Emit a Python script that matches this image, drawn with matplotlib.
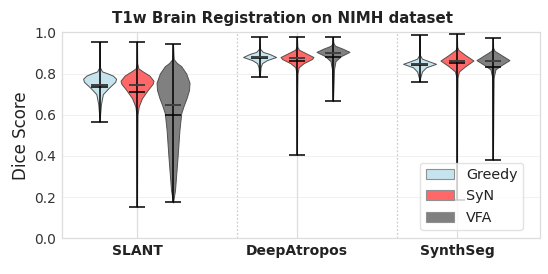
import matplotlib
matplotlib.use("Agg")
import matplotlib.pyplot as plt
from matplotlib.patches import Patch
import numpy as np

groups = ["SLANT", "DeepAtropos", "SynthSeg"]
methods = ["Greedy", "SyN", "VFA"]
colors = {"Greedy": "#c6e4ee", "SyN": "#ff6868", "VFA": "#808080"}

# Per violin: density profile (value, relative half-width), mean, median
slant_greedy_vals = [0.564, 0.60, 0.65, 0.70, 0.73, 0.76, 0.775, 0.79, 0.80, 0.81, 0.83, 0.953]
slant_greedy_dens = [0.0, 0.03, 0.08, 0.2, 0.55, 0.95, 1.0, 0.8, 0.5, 0.15, 0.02, 0.0]
slant_greedy_stats = dict(mean=0.735, median=0.743)

slant_syn_vals = [0.153, 0.40, 0.60, 0.64, 0.68, 0.72, 0.75, 0.765, 0.79, 0.81, 0.825, 0.85, 0.953]
slant_syn_dens = [0.0, 0.01, 0.03, 0.1, 0.3, 0.65, 0.95, 1.0, 0.75, 0.35, 0.08, 0.01, 0.0]
slant_syn_stats = dict(mean=0.712, median=0.746)

slant_vfa_vals = [0.174, 0.234, 0.40, 0.527, 0.608, 0.645, 0.68, 0.72, 0.755, 0.80, 0.835, 0.852, 0.87, 0.945]
slant_vfa_dens = [0.0, 0.12, 0.28, 0.39, 0.5, 0.65, 0.82, 0.97, 1.0, 0.8, 0.5, 0.22, 0.04, 0.0]
slant_vfa_stats = dict(mean=0.598, median=0.645)

deep_greedy_vals = [0.784, 0.80, 0.83, 0.85, 0.865, 0.88, 0.895, 0.905, 0.92, 0.975]
deep_greedy_dens = [0.0, 0.03, 0.06, 0.15, 0.45, 1.0, 0.6, 0.2, 0.03, 0.0]
deep_greedy_stats = dict(mean=0.877, median=0.880)

deep_syn_vals = [0.405, 0.70, 0.80, 0.83, 0.85, 0.87, 0.88, 0.90, 0.915, 0.93, 0.975]
deep_syn_dens = [0.0, 0.01, 0.03, 0.1, 0.4, 0.9, 1.0, 0.5, 0.12, 0.02, 0.0]
deep_syn_stats = dict(mean=0.860, median=0.876)

deep_vfa_vals = [0.665, 0.74, 0.82, 0.86, 0.885, 0.905, 0.92, 0.935, 0.95, 0.975]
deep_vfa_dens = [0.0, 0.03, 0.06, 0.15, 0.5, 1.0, 0.6, 0.12, 0.02, 0.0]
deep_vfa_stats = dict(mean=0.881, median=0.898)

synth_greedy_vals = [0.76, 0.78, 0.81, 0.83, 0.847, 0.86, 0.872, 0.89, 0.985]
synth_greedy_dens = [0.0, 0.04, 0.15, 0.4, 1.0, 0.55, 0.15, 0.02, 0.0]
synth_greedy_stats = dict(mean=0.842, median=0.847)

synth_syn_vals = [0.185, 0.60, 0.78, 0.81, 0.835, 0.863, 0.89, 0.915, 0.93, 0.99]
synth_syn_dens = [0.0, 0.01, 0.03, 0.12, 0.5, 1.0, 0.5, 0.08, 0.01, 0.0]
synth_syn_stats = dict(mean=0.852, median=0.863)

synth_vfa_vals = [0.38, 0.60, 0.78, 0.82, 0.84, 0.865, 0.89, 0.91, 0.925, 0.97]
synth_vfa_dens = [0.0, 0.02, 0.04, 0.15, 0.5, 1.0, 0.5, 0.1, 0.01, 0.0]
synth_vfa_stats = dict(mean=0.831, median=0.860)

violins = {
    ("SLANT", "Greedy"): (slant_greedy_vals, slant_greedy_dens, slant_greedy_stats),
    ("SLANT", "SyN"): (slant_syn_vals, slant_syn_dens, slant_syn_stats),
    ("SLANT", "VFA"): (slant_vfa_vals, slant_vfa_dens, slant_vfa_stats),
    ("DeepAtropos", "Greedy"): (deep_greedy_vals, deep_greedy_dens, deep_greedy_stats),
    ("DeepAtropos", "SyN"): (deep_syn_vals, deep_syn_dens, deep_syn_stats),
    ("DeepAtropos", "VFA"): (deep_vfa_vals, deep_vfa_dens, deep_vfa_stats),
    ("SynthSeg", "Greedy"): (synth_greedy_vals, synth_greedy_dens, synth_greedy_stats),
    ("SynthSeg", "SyN"): (synth_syn_vals, synth_syn_dens, synth_syn_stats),
    ("SynthSeg", "VFA"): (synth_vfa_vals, synth_vfa_dens, synth_vfa_stats),
}

offsets = {"Greedy": -0.234, "SyN": 0.0, "VFA": 0.225}
vwidth = 0.206

fig = plt.figure(figsize=(5.48, 2.74), dpi=100)
ax = fig.add_axes([62 / 548, 1 - 238.3 / 274, 478 / 548, 206 / 274])

# grid
for yv in [0.2, 0.4, 0.6, 0.8]:
    ax.axhline(yv, color="#eeeeee", lw=0.6, zorder=0)
for gi in range(len(groups)):
    ax.axvline(gi, color="#dddddd", lw=0.9, zorder=0)
for sep in [0.625, 1.625]:
    ax.axvline(sep, color="#cccccc", lw=0.9, ls=(0, (1.5, 1.5)), zorder=0)

for gi, g in enumerate(groups):
    for m in methods:
        vals, dens, st = violins[(g, m)]
        stats = [dict(coords=np.array(vals), vals=np.array(dens),
                      mean=st["mean"], median=st["median"],
                      min=min(vals), max=max(vals))]
        parts = ax.violin(stats, positions=[gi + offsets[m]], widths=vwidth,
                          showmeans=True, showextrema=True, showmedians=True)
        for b in parts["bodies"]:
            b.set_facecolor(colors[m])
            b.set_edgecolor("#505050")
            b.set_linewidth(0.7)
            b.set_alpha(1.0)
            b.set_zorder(2)
        for key in ["cbars", "cmins", "cmaxes", "cmeans"]:
            parts[key].set_color("black")
            parts[key].set_linewidth(1.1)
            parts[key].set_zorder(3)
        parts["cmedians"].set_color("#404040")
        parts["cmedians"].set_linewidth(1.4)
        parts["cmedians"].set_zorder(3)

ax.set_xlim(-0.469, 2.519)
ax.set_ylim(0.0, 1.0)
ax.set_xticks(range(len(groups)))
ax.set_xticklabels(groups, fontsize=10, fontweight="bold", color="#222222")
ax.set_yticks([0.0, 0.2, 0.4, 0.6, 0.8, 1.0])
ax.set_yticklabels(["0.0", "0.2", "0.4", "0.6", "0.8", "1.0"], fontsize=10, color="#333333")
ax.tick_params(axis="both", length=0, pad=4)
ax.set_ylabel("Dice Score", fontsize=12, color="#222222", labelpad=3)
for s in ax.spines.values():
    s.set_color("#dddddd")
    s.set_linewidth(0.9)

fig.text(283 / 548, 1 - 18 / 274, "T1w Brain Registration on NIMH dataset",
         ha="center", va="center", fontsize=10.8, fontweight="bold", color="#222222")

handles = [Patch(facecolor=colors[m], edgecolor="#909090", linewidth=0.8, label=m) for m in methods]
leg = ax.legend(handles=handles, loc="lower right", bbox_to_anchor=(0.9644, 0.039),
                borderaxespad=0, fontsize=10.3, frameon=True, framealpha=0.8,
                edgecolor="#dddddd", fancybox=True)
for t in leg.get_texts():
    t.set_color("#222222")

fig.savefig("out.png", dpi=100)
